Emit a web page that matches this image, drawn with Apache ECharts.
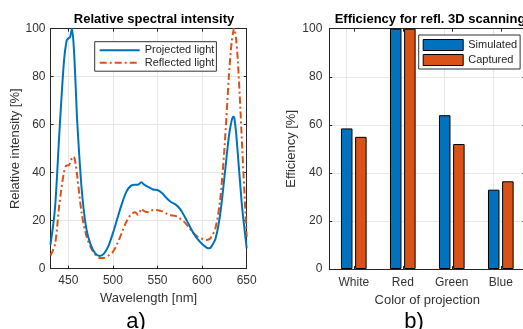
<!DOCTYPE html>
<html><head><meta charset="utf-8">
<script src="https://cdn.jsdelivr.net/npm/echarts@6/dist/echarts.min.js"></script>
<style>html,body{margin:0;padding:0;background:#fff}#c{width:523px;height:329px}</style>
</head><body><div id="c"></div>
<script>
const wavelengths = [430,435,440,445,448,450,452,454,456,458,460,465,470,475,480,485,490,495,500,505,510,515,520,525,528,530,532,535,540,545,550,555,560,565,570,575,580,585,590,595,600,605,608,610,615,620,625,630,633,635,636,638,640,643,645,650];
const projected = [10,25,57,86,95,96,96.5,100,93,78,61,33,17,10,6.5,5.3,6.3,9.5,14.8,21,27,32,34.5,35,35,35.5,36,35,34,33,32.8,31.5,29.5,27.8,26.8,25,22,18.5,15,12.3,10.3,8.8,8.5,9,12.5,22,38,55,61.5,63.3,63,57,48,34,25,8.5];
const reflected = [5.5,10,27,40,43,43,44,46,46.7,44,38.5,23,14,9,6,4.5,4.5,5.5,7,10.5,15,19.5,22.5,23.5,22.5,23.5,25,24,23.5,24.5,24.4,24,23,22.3,22,21,19.5,17.3,15,13.3,12.5,12,12.3,13,17,28,50,80,94,99,100,96,87,66,50,13.3];
const categories = ['White','Red','Green','Blue'];
const simulated = [58.5,100,64,33];
const captured = [55,100,52,36.5];

const BLUE = '#0072BD', ORANGE = '#D95319';
const AX = '#262626', GRID = '#e6e6e6';
const FONT = 'Liberation Sans, Arial, sans-serif';
const tickLbl = {color:'#333', fontSize:12, fontFamily:FONT};
const nameTs = {color:'#333', fontSize:13, fontFamily:FONT};

const chart = echarts.init(document.getElementById('c'), null, {renderer:'canvas'});
const boxAxis = (extra) => Object.assign({
  axisLine:{show:true, onZero:false, lineStyle:{color:AX, width:1}},
  axisTick:{show:true, inside:true, length:3, lineStyle:{color:AX}},
  axisLabel:{show:false}, splitLine:{show:false}
}, extra);

chart.setOption({
  animation:false,
  textStyle:{fontFamily:FONT},
  title:[
    {text:'Relative spectral intensity', left:149, top:8, textAlign:'center', textStyle:{fontSize:13, fontWeight:'bold', color:'#000', fontFamily:FONT}},
    {text:'Efficiency for refl. 3D scanning', left:425, top:8, textAlign:'center', textStyle:{fontSize:13, fontWeight:'bold', color:'#000', fontFamily:FONT}},
    {text:'a)', left:131, top:306, textAlign:'center', textStyle:{fontSize:22, fontWeight:'normal', color:'#000', fontFamily:FONT}},
    {text:'b)', left:409, top:306, textAlign:'center', textStyle:{fontSize:22, fontWeight:'normal', color:'#000', fontFamily:FONT}}
  ],
  legend:[
    {data:['Projected light','Reflected light'], orient:'vertical', left:94.7, top:41.7,
     itemWidth:40, itemHeight:12, itemGap:1.5, padding:[3,2,3,4],
     itemStyle:{opacity:0},
     backgroundColor:'#fff', borderColor:'#333', borderWidth:1,
     textStyle:{fontSize:11, color:'#262626', fontFamily:FONT}},
    {data:['Simulated','Captured'], orient:'vertical', left:418.7, top:35, icon:'rect',
     itemWidth:40, itemHeight:11, itemGap:3, padding:[4,3,3,4],
     itemStyle:{borderWidth:1, borderColor:'#000'},
     backgroundColor:'#fff', borderColor:'#333', borderWidth:1,
     textStyle:{fontSize:11, color:'#262626', fontFamily:FONT}}
  ],
  grid:[
    {left:50.5, right:276.3, top:28.7, bottom:60.3, outerBoundsMode:'none'},
    {left:329.3, right:-2.3, top:28.7, bottom:60, outerBoundsMode:'none'}
  ],
  xAxis:[
    boxAxis({type:'value', gridIndex:0, min:430, max:650, splitNumber:5, position:'bottom',
      axisLabel:{show:true, showMinLabel:false, margin:6, ...tickLbl},
      splitLine:{show:true, lineStyle:{color:GRID}},
      name:'Wavelength [nm]', nameLocation:'middle', nameGap:22, nameTextStyle:nameTs}),
    boxAxis({type:'value', gridIndex:0, min:430, max:650, splitNumber:5, position:'top'}),
    boxAxis({type:'category', gridIndex:1, data:categories, position:'bottom',
      axisTick:{show:true, inside:true, length:3, alignWithLabel:true, lineStyle:{color:AX}},
      axisLabel:{show:true, margin:8, ...tickLbl},
      name:'Color of projection', nameLocation:'middle', nameGap:24, nameTextStyle:nameTs}),
    boxAxis({type:'category', gridIndex:1, data:categories, position:'top',
      axisTick:{show:true, inside:true, length:3, alignWithLabel:true, lineStyle:{color:AX}}})
  ],
  yAxis:[
    boxAxis({type:'value', gridIndex:0, min:0, max:100, interval:20, position:'left',
      axisLabel:{show:true, margin:5, ...tickLbl},
      splitLine:{show:true, lineStyle:{color:GRID}},
      name:'Relative intensity [%]', nameLocation:'middle', nameGap:26, nameTextStyle:nameTs}),
    boxAxis({type:'value', gridIndex:0, min:0, max:100, interval:20, position:'right'}),
    boxAxis({type:'value', gridIndex:1, min:0, max:100, interval:20, position:'left',
      axisLabel:{show:true, margin:7, ...tickLbl},
      splitLine:{show:true, lineStyle:{color:GRID}},
      name:'Efficiency [%]', nameLocation:'middle', nameGap:28, nameTextStyle:nameTs}),
    boxAxis({type:'value', gridIndex:1, min:0, max:100, interval:20, position:'right'})
  ],
  series:[
    {name:'Projected light', type:'line', xAxisIndex:0, yAxisIndex:0, smooth:0.3, symbol:'none', showSymbol:false,
     data:wavelengths.map((w,i)=>[w, projected[i]]),
     lineStyle:{color:BLUE, width:2}, itemStyle:{color:BLUE}, z:3},
    {name:'Reflected light', type:'line', xAxisIndex:0, yAxisIndex:0, smooth:0.3, symbol:'none', showSymbol:false,
     data:wavelengths.map((w,i)=>[w, reflected[i]]),
     lineStyle:{color:ORANGE, width:2, type:[7,3,2,3]}, itemStyle:{color:ORANGE}, z:2},
    {name:'Simulated', type:'bar', xAxisIndex:2, yAxisIndex:2, data:simulated, barWidth:11.5, barGap:'23%',
     itemStyle:{color:BLUE, borderColor:'#000', borderWidth:1},
     markLine:{silent:true, symbol:'none', label:{show:false}, animation:false,
       lineStyle:{color:GRID, type:'solid', width:1}, z:0,
       data:categories.map(c=>({xAxis:c}))}, z:2},
    {name:'Captured', type:'bar', xAxisIndex:2, yAxisIndex:2, data:captured, barWidth:11.5, barGap:'23%',
     itemStyle:{color:ORANGE, borderColor:'#000', borderWidth:1}, z:2}
  ]
});
</script></body></html>
